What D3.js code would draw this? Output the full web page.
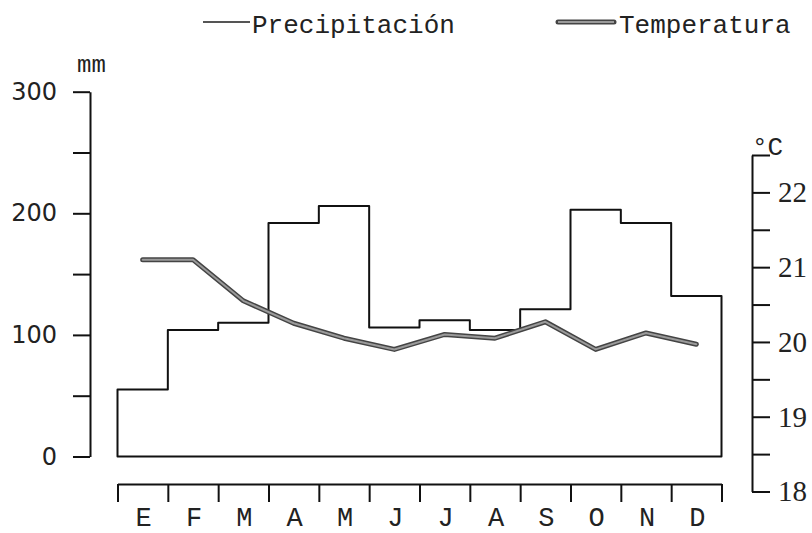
<!DOCTYPE html>
<html><head><meta charset="utf-8">
<script src="https://cdn.jsdelivr.net/npm/d3@7"></script>
<style>html,body{margin:0;padding:0;background:#fff;}svg{display:block;}</style>
</head><body>
<svg id="c" width="812" height="533"></svg>
<script>
const months = ["E","F","M","A","M","J","J","A","S","O","N","D"];
const precipitation = [55, 104, 110, 192, 206, 106, 112, 104, 121, 203, 192, 132];
const temperature = [21.1, 21.1, 20.55, 20.25, 20.05, 19.9, 20.1, 20.05, 20.27, 19.9, 20.12, 19.97];
const precipTicks = [0, 50, 100, 150, 200, 250, 300];
const precipLabels = [0, 100, 200, 300];
const tempTicks = [18, 18.5, 19, 19.5, 20, 20.5, 21, 21.5, 22, 22.5];
const tempLabels = [18, 19, 20, 21, 22];

const svg = d3.select("#c");
const mono = "'Liberation Mono', 'DejaVu Sans Mono', monospace";

const x = d3.scaleLinear().domain([0, 12]).range([117.5, 721.5]);
const xb = d3.scaleBand().domain(d3.range(12)).range([117.5, 721.5]);
const yP = d3.scaleLinear().domain([0, 300]).range([456.5, 91.7]);
const yT = d3.scaleLinear().domain([18, 22.5]).range([491.5, 155]);

// Left axis
const gL = svg.append("g").attr("transform", "translate(90,0)")
  .call(d3.axisLeft(yP).tickValues(precipTicks).tickSize(17).tickSizeOuter(0).tickPadding(16)
    .tickFormat(d => precipLabels.includes(d) ? d : ""));
gL.selectAll("path,line").attr("stroke", "#111").attr("stroke-width", 2);
gL.selectAll("text").attr("font-family", "'DejaVu Sans', sans-serif").attr("font-size", 24)
  .attr("fill", "#222");

svg.append("text").attr("x", 77).attr("y", 72).attr("font-family", mono)
  .attr("font-size", 24).attr("fill", "#222").text("mm");

// Right axis
const gR = svg.append("g").attr("transform", "translate(752,0)")
  .call(d3.axisRight(yT).tickValues(tempTicks).tickSize(18).tickSizeOuter(0).tickPadding(8)
    .tickFormat(d => tempLabels.includes(d) ? d : ""));
gR.selectAll("path,line").attr("stroke", "#111").attr("stroke-width", 2);
gR.selectAll("text").attr("font-family", "'Liberation Serif', serif").attr("font-size", 29).attr("fill", "#222");

svg.append("text").attr("x", 752).attr("y", 155).attr("font-family", mono)
  .attr("font-size", 26).attr("fill", "#222").text("°C");

// Bottom month axis
const gB = svg.append("g").attr("transform", "translate(0,484)")
  .call(d3.axisBottom(x).tickValues(d3.range(13)).tickSize(18).tickSizeOuter(0).tickFormat(""));
gB.selectAll("path,line").attr("stroke", "#111").attr("stroke-width", 2);

svg.append("g").selectAll("text").data(months).join("text")
  .attr("x", (d, i) => xb(i) + xb.bandwidth() / 2 + 1)
  .attr("y", 526)
  .attr("text-anchor", "middle")
  .attr("font-family", mono).attr("font-size", 27).attr("fill", "#222")
  .text(d => d);

// Precipitation step outline
const stepData = precipitation.map((v, i) => ({i, v})).concat([{i: 12, v: precipitation[11]}]);
const area = d3.area().curve(d3.curveStepAfter)
  .x(d => x(d.i)).y0(yP(0)).y1(d => yP(d.v));
svg.append("path").attr("d", area(stepData))
  .attr("fill", "none").attr("stroke", "#111").attr("stroke-width", 2).attr("stroke-linejoin", "round");

// Temperature line
const line = d3.line().x((d, i) => x(i + 0.5)).y(d => yT(d));
svg.append("path").attr("d", line(temperature)).attr("fill", "none")
  .attr("stroke", "#444").attr("stroke-width", 5).attr("stroke-linejoin", "round").attr("stroke-linecap", "round");
svg.append("path").attr("d", line(temperature)).attr("fill", "none")
  .attr("stroke", "#9a9a9a").attr("stroke-width", 2).attr("stroke-linejoin", "round").attr("stroke-linecap", "round");

// Legend
const legend = [
  {label: "Precipitación", x1: 203, x2: 250, tx: 252, type: "p"},
  {label: "Temperatura", x1: 558, x2: 614, tx: 619, type: "t"}
];
legend.forEach(l => {
  if (l.type === "p") {
    svg.append("line").attr("x1", l.x1).attr("x2", l.x2).attr("y1", 22).attr("y2", 22)
      .attr("stroke", "#555").attr("stroke-width", 2);
  } else {
    svg.append("line").attr("x1", l.x1).attr("x2", l.x2).attr("y1", 22).attr("y2", 22)
      .attr("stroke", "#444").attr("stroke-width", 5).attr("stroke-linecap", "round");
    svg.append("line").attr("x1", l.x1).attr("x2", l.x2).attr("y1", 22).attr("y2", 22)
      .attr("stroke", "#9a9a9a").attr("stroke-width", 2);
  }
  svg.append("text").attr("x", l.tx).attr("y", 33).attr("font-family", mono)
    .attr("font-size", 26).attr("fill", "#222").text(l.label);
});
</script>
</body></html>
